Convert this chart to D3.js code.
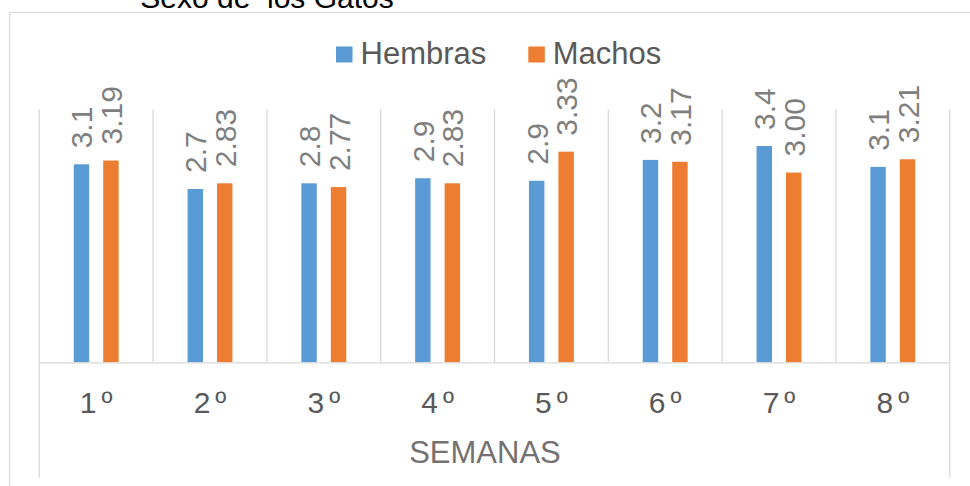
<!DOCTYPE html>
<html><head><meta charset="utf-8">
<script src="https://cdn.jsdelivr.net/npm/d3@7"></script>
<style>body{margin:0;background:#fff}svg{display:block;font-family:"Liberation Sans",Arial,sans-serif}</style>
</head><body>
<svg id="c" width="970" height="486"></svg>
<script>
const categories = ["1º","2º","3º","4º","5º","6º","7º","8º"];
const seriesNames = ["Hembras","Machos"];
const hembras = [3.13, 2.74, 2.83, 2.91, 2.87, 3.20, 3.42, 3.09];
const machos = [3.19, 2.83, 2.77, 2.83, 3.33, 3.17, 3.00, 3.21];
const labelFormats = [".1f", ".2f"];
const colors = ["#5b9bd5", "#ed7d31"];
const title = "Sexo de  los Gatos";
const axisTitle = "SEMANAS";

const svg = d3.select("#c");
const grid = "#d9d9d9";
const pLeft = 39.3, pRight = 949.7, pTop = 109.3, pBottom = 362.3;

// outer chart frame
svg.append("rect").attr("x", 9.5).attr("y", 12.5).attr("width", 990).attr("height", 500)
  .attr("fill", "none").attr("stroke", grid).attr("stroke-width", 1.2);

svg.append("text").attr("x", 267).attr("y", 8).attr("text-anchor", "middle")
  .attr("font-size", 30).attr("fill", "#000").text(title.replace(/  /g, " \u00a0"));

const x = d3.scaleBand().domain(categories).range([pLeft, pRight]).padding(0);
const x1 = d3.scaleBand().domain(seriesNames).range([0, x.bandwidth()]).paddingInner(0.476).paddingOuter(1.17);
const y = d3.scaleLinear().domain([0, 4]).range([pBottom, pTop]);

// vertical gridlines at category boundaries
const bounds = d3.range(categories.length + 1).map(i => pLeft + i * x.step());
svg.append("g").selectAll("line").data(bounds).join("line")
  .attr("x1", d => d).attr("x2", d => d)
  .attr("y1", pTop).attr("y2", (d, i) => (i === 0 || i === categories.length) ? 478 : pBottom)
  .attr("stroke", grid).attr("stroke-width", 1.3);

// bars
const data = categories.map((c, i) => ({c, vals: [hembras[i], machos[i]]}));
const gBars = svg.append("g");
seriesNames.forEach((s, si) => {
  gBars.selectAll(".b" + si).data(data).join("rect").attr("class", "b" + si)
    .attr("x", d => x(d.c) + x1(s)).attr("width", x1.bandwidth())
    .attr("y", d => y(d.vals[si])).attr("height", d => y(0) - y(d.vals[si]))
    .attr("fill", colors[si]);
  gBars.selectAll(".l" + si).data(data).join("text").attr("class", "l" + si)
    .attr("transform", d => `translate(${x(d.c) + x1(s) + x1.bandwidth() / 2 + 11},${y(d.vals[si]) - 16}) rotate(-90)`)
    .attr("font-size", 30).attr("fill", "#7f7f7f").attr("text-anchor", "start")
    .text(d => d3.format(labelFormats[si])(d.vals[si]));
});

// category axis
const ax = svg.append("g").attr("transform", `translate(0,${pBottom})`)
  .call(d3.axisBottom(x).tickSize(0));
ax.select(".domain").attr("stroke", grid).attr("stroke-width", 1.3);
ax.selectAll(".tick text").attr("y", 51).attr("dy", null).attr("dx", 0)
  .attr("font-size", 30).attr("fill", "#595959").attr("font-family", "Liberation Sans, Arial, sans-serif")
  .each(function(d) {
    const t = d3.select(this);
    t.text(null);
    t.append("tspan").text(d.slice(0, -1));
    t.append("tspan").attr("dx", 5).text(d.slice(-1));
  });

svg.append("text").attr("x", 485).attr("y", 462.5).attr("text-anchor", "middle")
  .attr("font-size", 31).attr("fill", "#757171").text(axisTitle);

// legend
const legX = [336, 528.3];
seriesNames.forEach((s, i) => {
  svg.append("rect").attr("x", legX[i]).attr("y", 46.5).attr("width", 16.5).attr("height", 16).attr("fill", colors[i]);
  svg.append("text").attr("x", legX[i] + 24.5).attr("y", 64).attr("font-size", 31).attr("fill", "#595959").text(s);
});
</script>
</body></html>
